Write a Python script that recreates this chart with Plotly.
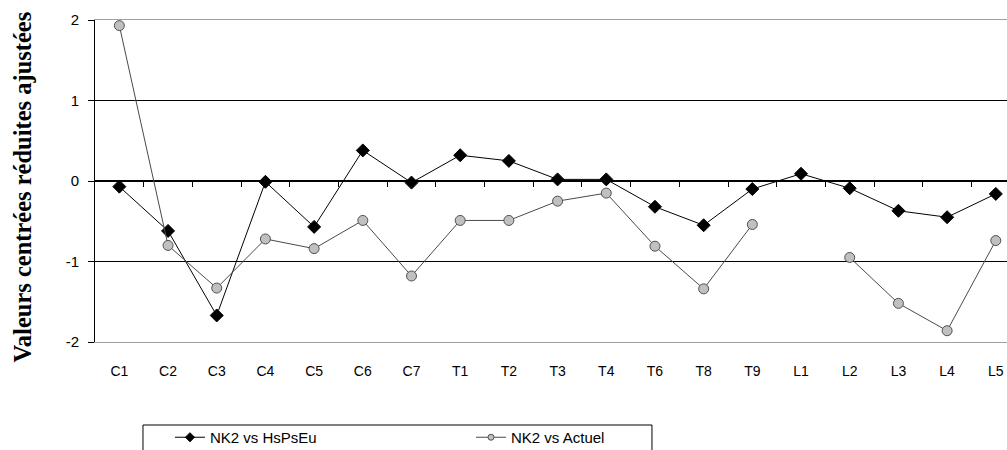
import plotly.graph_objects as go

categories = ["C1", "C2", "C3", "C4", "C5", "C6", "C7", "T1", "T2", "T3",
              "T4", "T6", "T8", "T9", "L1", "L2", "L3", "L4", "L5"]
hspseu = [-0.07, -0.62, -1.67, -0.01, -0.57, 0.38, -0.02, 0.32, 0.25, 0.02,
          0.02, -0.32, -0.55, -0.10, 0.09, -0.09, -0.37, -0.45, -0.16]
actuel = [1.93, -0.80, -1.33, -0.72, -0.84, -0.49, -1.18, -0.49, -0.49, -0.25,
          -0.15, -0.81, -1.34, -0.54, None, -0.95, -1.52, -1.86, -0.74]
name1 = "NK2 vs HsPsEu"
name2 = "NK2 vs Actuel"
y_title = "Valeurs centrées réduites ajustées"
y_ticks = [-2, -1, 0, 1, 2]

n = len(categories)
idx = list(range(n))
boundaries = [i + 0.5 for i in range(n - 1)]

style1 = dict(line=dict(color="black", width=1))
style2 = dict(line=dict(color="#4a4a4a", width=1))

fig = go.Figure()
fig.add_trace(go.Scatter(
    x=idx, y=hspseu, name=name1, mode="lines+markers", showlegend=False, **style1,
    marker=dict(symbol="diamond", size=10, color="black", line=dict(color="black", width=1)),
))
fig.add_trace(go.Scatter(
    x=idx, y=actuel, name=name2, mode="lines+markers", connectgaps=False, showlegend=False, **style2,
    marker=dict(symbol="circle", size=10, color="#c0c0c0", line=dict(color="#505050", width=1)),
))
# legend entries (small symbols, like the original)
fig.add_trace(go.Scatter(
    x=[None], y=[None], name=name1, mode="lines+markers", legend="legend", **style1,
    marker=dict(symbol="diamond", size=7, color="black", line=dict(color="black", width=1)),
))
fig.add_trace(go.Scatter(
    x=[None], y=[None], name=name2, mode="lines+markers", legend="legend2", **style2,
    marker=dict(symbol="circle", size=6, color="#c0c0c0", line=dict(color="#505050", width=1)),
))
# invisible trace to carry the zero-line tick axis
fig.add_trace(go.Scatter(x=idx, y=[None] * n, xaxis="x2", showlegend=False,
                         hoverinfo="skip", mode="lines"))

fig.update_layout(
    width=1007, height=450,
    margin=dict(l=95, r=0, t=20, b=108, autoexpand=False),
    paper_bgcolor="white", plot_bgcolor="white",
    font=dict(family="Liberation Sans, Arial", size=14, color="black"),
    xaxis=dict(
        range=[-0.5, 18.23], tickvals=idx, ticktext=categories, automargin=False,
        showgrid=False, zeroline=False, ticks="", ticklabelstandoff=16,
        showline=True, linecolor="#a0a0a0", linewidth=1, mirror=True,
        tickfont=dict(size=14),
    ),
    xaxis2=dict(
        overlaying="x", anchor="free", position=0.5, matches="x", automargin=False,
        tickvals=boundaries, ticks="outside", ticklen=5, tickcolor="black",
        showticklabels=False, showgrid=False, zeroline=False, showline=False,
    ),
    yaxis=dict(
        range=[-2, 2], tickvals=y_ticks, ticktext=[str(v) for v in y_ticks],
        automargin=False,
        showgrid=True, gridcolor="black", gridwidth=1,
        zeroline=True, zerolinecolor="black", zerolinewidth=1.5,
        showline=True, linecolor="black", linewidth=1,
        ticks="outside", ticklen=6, tickcolor="black", ticklabelstandoff=6,
        tickfont=dict(size=15),
    ),
    legend=dict(
        orientation="h", x=0.0822, xanchor="left", y=-0.2453, yanchor="top",
        borderwidth=0, bgcolor="rgba(0,0,0,0)", font=dict(size=15),
    ),
    legend2=dict(
        orientation="h", x=0.4123, xanchor="left", y=-0.2453, yanchor="top",
        borderwidth=0, bgcolor="rgba(0,0,0,0)", font=dict(size=15),
    ),
    shapes=[dict(type="rect", xref="paper", yref="paper",
                 x0=0.0526, x1=0.6107, y0=-0.6, y1=-0.2578,
                 line=dict(color="black", width=1), fillcolor="rgba(0,0,0,0)")],
    annotations=[dict(text=y_title, textangle=-90, xref="paper", yref="paper",
                      x=-0.0795, y=0.481, xanchor="center", yanchor="middle",
                      showarrow=False,
                      font=dict(family="Liberation Serif, Times New Roman", size=24.5,
                                color="black", weight="bold"))],
)

# remove the default page margin so the figure fills the window exactly
post = ("document.documentElement.style.margin='0';"
        "document.body.style.margin='0';"
        "document.documentElement.style.overflow='hidden';"
        "document.body.style.overflow='hidden';")
fig.write_html("out.html", post_script=post, config={"displayModeBar": False})
